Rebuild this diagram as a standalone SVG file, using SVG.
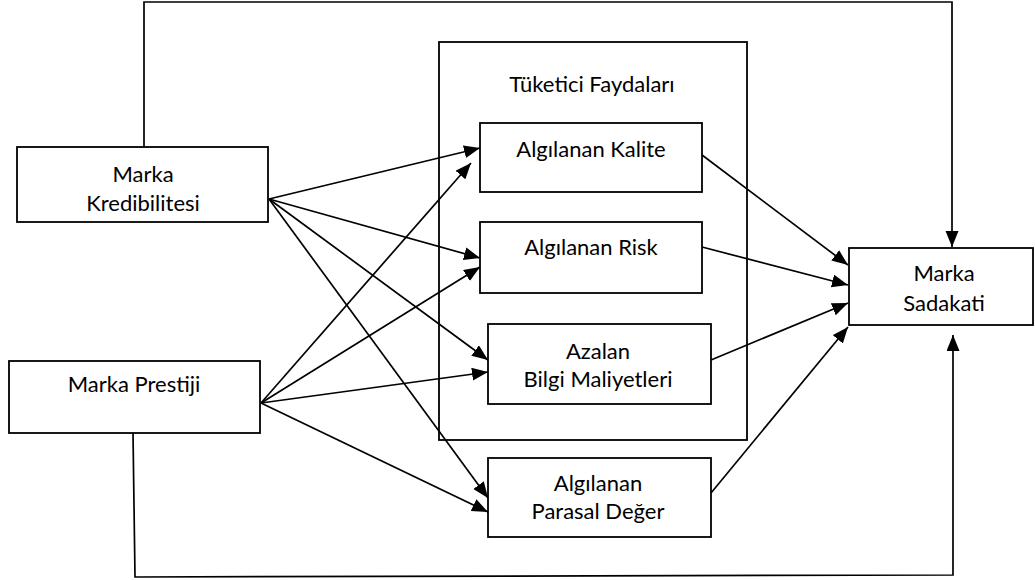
<svg xmlns="http://www.w3.org/2000/svg" width="1035" height="580" viewBox="0 0 1035 580">
<style>
  .box { fill: #ffffff; stroke: #000000; stroke-width: 1.8; }
  .frame { fill: none; stroke: #000000; stroke-width: 1.8; }
  .lbl { font-family: Lato, "Open Sans", sans-serif; font-size: 22px; fill: #000000; text-anchor: middle; }
  .conn { fill: none; stroke: #000000; stroke-width: 1.7; }
</style>
<defs>
  <marker id="arr" markerUnits="userSpaceOnUse" markerWidth="17" markerHeight="14" refX="16" refY="6.5" orient="auto">
    <path d="M0,0 L16,6.5 L0,13 z" fill="#000000"/>
  </marker>
</defs>
<rect width="1035" height="580" fill="#ffffff"/>

<g id="tuketici-faydalari">
  <rect class="frame" x="439" y="42" width="308" height="398"/>
  <text class="lbl" x="592" y="92">Tüketici Faydaları</text>
</g>

<g id="connectors">
  <line class="conn" x1="269" y1="199" x2="480" y2="148" marker-end="url(#arr)"/>
  <line class="conn" x1="269" y1="199" x2="480" y2="258" marker-end="url(#arr)"/>
  <line class="conn" x1="269" y1="199" x2="488" y2="360" marker-end="url(#arr)"/>
  <line class="conn" x1="269" y1="199" x2="488" y2="498" marker-end="url(#arr)"/>
  <line class="conn" x1="261" y1="403" x2="471" y2="163" marker-end="url(#arr)"/>
  <line class="conn" x1="261" y1="403" x2="480" y2="267" marker-end="url(#arr)"/>
  <line class="conn" x1="261" y1="403" x2="488" y2="372" marker-end="url(#arr)"/>
  <line class="conn" x1="261" y1="403" x2="488" y2="512" marker-end="url(#arr)"/>
  <line class="conn" x1="702" y1="155" x2="848" y2="265" marker-end="url(#arr)"/>
  <line class="conn" x1="702" y1="247" x2="848" y2="285" marker-end="url(#arr)"/>
  <line class="conn" x1="711" y1="360" x2="848" y2="303" marker-end="url(#arr)"/>
  <line class="conn" x1="711" y1="493" x2="848" y2="327" marker-end="url(#arr)"/>
  <polyline class="conn" points="144,147 144,2 952,2 952,247" marker-end="url(#arr)"/>
  <polyline class="conn" points="133,433 135,577 953,575 953,335" marker-end="url(#arr)"/>
</g>

<g id="marka-kredibilitesi">
  <rect class="box" x="17" y="147" width="251" height="75"/>
  <text class="lbl" x="143" y="182">Marka</text>
  <text class="lbl" x="143" y="211">Kredibilitesi</text>
</g>

<g id="marka-prestiji">
  <rect class="box" x="9" y="361" width="251" height="72"/>
  <text class="lbl" x="134" y="392">Marka Prestiji</text>
</g>

<g id="algilanan-kalite">
  <rect class="box" x="480" y="123" width="222" height="69"/>
  <text class="lbl" x="591" y="157">Algılanan Kalite</text>
</g>

<g id="algilanan-risk">
  <rect class="box" x="480" y="222" width="222" height="71"/>
  <text class="lbl" x="591" y="255">Algılanan Risk</text>
</g>

<g id="azalan-bilgi-maliyetleri">
  <rect class="box" x="488" y="324" width="223" height="80"/>
  <text class="lbl" x="598" y="359">Azalan</text>
  <text class="lbl" x="598" y="387">Bilgi Maliyetleri</text>
</g>

<g id="algilanan-parasal-deger">
  <rect class="box" x="488" y="458" width="223" height="79"/>
  <text class="lbl" x="598" y="491">Algılanan</text>
  <text class="lbl" x="598" y="519">Parasal Değer</text>
</g>

<g id="marka-sadakati">
  <rect class="box" x="849" y="248" width="184" height="77"/>
  <text class="lbl" x="944" y="281">Marka</text>
  <text class="lbl" x="944" y="311">Sadakati</text>
</g>
</svg>
